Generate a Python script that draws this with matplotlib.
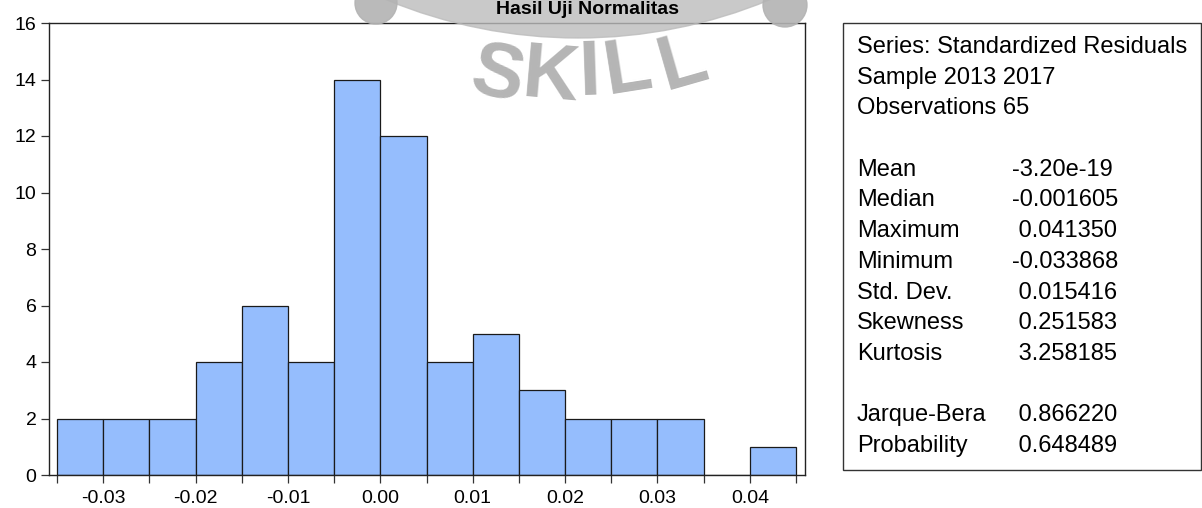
#import libraries
import matplotlib.pyplot as plt
from matplotlib.patches import Rectangle, Ellipse

#define data
bin_left = [-0.035, -0.030, -0.025, -0.020, -0.015, -0.010, -0.005, 0.000,
            0.005, 0.010, 0.015, 0.020, 0.025, 0.030, 0.035, 0.040]
counts = [2, 2, 2, 4, 6, 4, 14, 12, 4, 5, 3, 2, 2, 2, 0, 1]
BIN_W = 0.005

xtick_major = [-0.03, -0.02, -0.01, 0.00, 0.01, 0.02, 0.03, 0.04]
xtick_labels = ['-0.03', '-0.02', '-0.01', '0.00', '0.01', '0.02', '0.03', '0.04']
yticks = [0, 2, 4, 6, 8, 10, 12, 14, 16]

header_lines = ['Series: Standardized Residuals', 'Sample 2013 2017', 'Observations 65']
stat_names = ['Mean', 'Median', 'Maximum', 'Minimum', 'Std. Dev.', 'Skewness', 'Kurtosis']
stat_values = ['-3.20e-19', '-0.001605', ' 0.041350', '-0.033868', ' 0.015416', ' 0.251583', ' 3.258185']
test_names = ['Jarque-Bera', 'Probability']
test_values = [' 0.866220', ' 0.648489']

plt.rcParams['font.family'] = ['Liberation Sans', 'DejaVu Sans']

#figure
W, H = 1202, 508
fig = plt.figure(figsize=(W / 100, H / 100), dpi=100)

def fx(px):
    return px / W

def fy(py):
    return 1 - py / H

def disc(cx, cy, r, color, alpha, z):
    # circle in pixel units, drawn in figure fraction coords
    e = Ellipse((fx(cx), fy(cy)), 2 * r / W, 2 * r / H, transform=fig.transFigure,
                color=color, alpha=alpha, zorder=z)
    fig.patches.append(e)

#histogram axes
ax = fig.add_axes([fx(49), fy(475), fx(805) - fx(49), fy(23) - fy(475)])
ax.bar(bin_left, counts, width=BIN_W, align='edge', color='#95bdfd',
       edgecolor='#1a1a1a', linewidth=0.9)
ax.set_xlim(-0.03587, 0.04597)
ax.set_ylim(0, 16)
ax.set_yticks(yticks)
ax.set_xticks(xtick_major)
ax.set_xticklabels(xtick_labels)
ax.set_xticks([b for b in bin_left] + [0.045], minor=True)
ax.tick_params(axis='both', which='both', direction='out', length=6, width=0.9,
               labelsize=14, color='#333333')
ax.tick_params(axis='y', pad=3)
ax.tick_params(axis='x', pad=5)
for s in ax.spines.values():
    s.set_linewidth(1.0)
    s.set_color('#222222')

#stats box
box = Rectangle((fx(843), fy(470)), fx(1201) - fx(843), fy(23) - fy(470),
                transform=fig.transFigure, fill=False, edgecolor='#333333', linewidth=1.0)
fig.patches.append(box)

FS = 17
LH = 30.7
y = 47
for line in header_lines:
    fig.text(fx(857), fy(y), line, fontsize=FS, va='center', ha='left')
    y += LH
y += LH
for n, v in zip(stat_names, stat_values):
    fig.text(fx(857), fy(y), n, fontsize=FS, va='center', ha='left')
    fig.text(fx(1012), fy(y), v, fontsize=FS, va='center', ha='left')
    y += LH
y += LH
for n, v in zip(test_names, test_values):
    fig.text(fx(857), fy(y), n, fontsize=FS, va='center', ha='left')
    fig.text(fx(1012), fy(y), v, fontsize=FS, va='center', ha='left')
    y += LH

#watermark logo (grey disc arc, two dots, SKILL on a curve)
disc(578, -462, 500, '#bcbcbc', 0.8, 5)
disc(376, 3, 21, '#b3b3b3', 0.9, 5)
disc(785, 5, 22, '#b3b3b3', 0.9, 5)
letters = ['S', 'K', 'I', 'L', 'L']
letter_x = [498, 550, 590, 628, 683]
letter_y = [76, 78, 74, 70, 64]
letter_rot = [-12, -5, 2, 9, 16]
for ch, lx, ly, rot in zip(letters, letter_x, letter_y, letter_rot):
    fig.text(fx(lx), fy(ly), ch, fontsize=56, fontweight='bold', color='#a8a8a8',
             ha='center', va='center', rotation=rot, alpha=0.85, zorder=6)

fig.text(fx(588), fy(1), 'Hasil Uji Normalitas', fontsize=14, fontweight='bold',
         ha='center', va='top', zorder=7)

plt.savefig('out.png', dpi=100)
